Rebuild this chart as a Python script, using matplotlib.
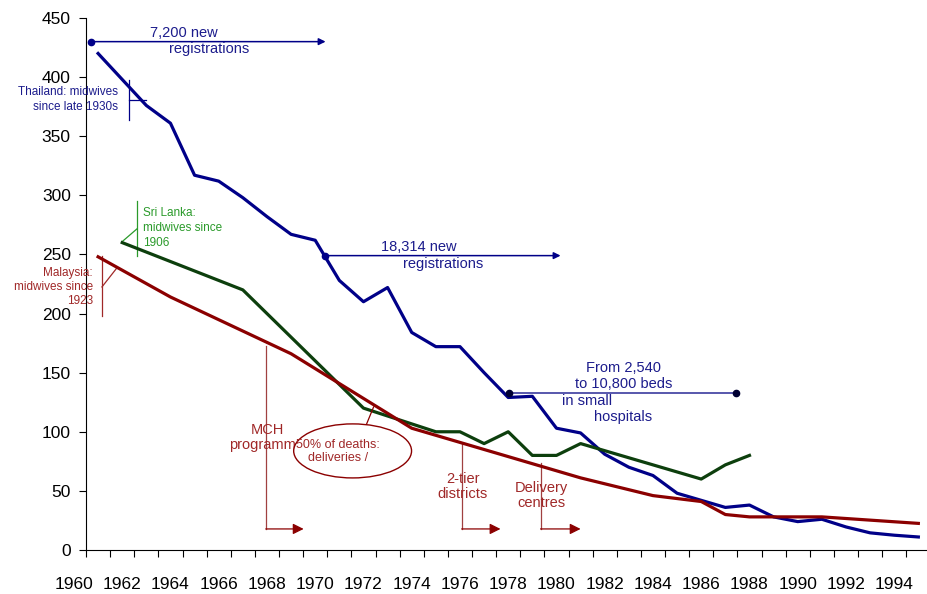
import matplotlib
matplotlib.use('Agg')
from matplotlib import pyplot as plt
from matplotlib.patches import Ellipse

plt.rcParams['font.family'] = ['Liberation Sans', 'DejaVu Sans']

# maternal mortality per 100,000 live births
thai_years = list(range(1961, 1996))
thai = [420, 398, 376, 361, 317, 312, 298, 282, 267, 262,
        228, 210, 222, 184, 172, 172, 150, 129, 130, 103,
        99, 81, 70, 63, 48, 42, 36, 38, 28, 24,
        26, 19.5, 14.5, 12.5, 11]
sri_years = [1962, 1967, 1972, 1975, 1976, 1977, 1978, 1979, 1980, 1981, 1986, 1987, 1988]
sri = [260, 220, 120, 100, 100, 90, 100, 80, 80, 90, 60, 72, 80]
mal_years = [1961, 1964, 1969, 1974, 1975, 1981, 1984, 1986, 1987, 1988, 1991, 1995]
mal = [248, 214, 166, 103, 97, 61, 46, 41, 30, 28, 28, 22.5]

year_labels = list(range(1960, 1996, 2))
y_ticks = list(range(0, 451, 50))

NAVY = '#000088'
GREEN = '#0d3f0d'
RED = '#8b0000'
T_NAVY = '#1c1c8c'
T_GREEN = '#2a9a2a'
T_RED = '#a02828'

fig = plt.figure(figsize=(9.28, 5.94), dpi=100)
ax = fig.add_axes([0.0927, 0.0741, 0.9073, 0.8956])

ax.plot(thai_years, thai, color=NAVY, lw=2.3, zorder=3)
ax.plot(sri_years, sri, color=GREEN, lw=2.3, zorder=3)
ax.plot(mal_years, mal, color=RED, lw=2.3, zorder=3)

ax.set_xlim(1960.54, 1995.4)
ax.set_ylim(0, 450)
ax.spines['top'].set_visible(False)
ax.spines['right'].set_visible(False)
ax.set_yticks(y_ticks)
ax.tick_params(axis='y', direction='out', length=5, pad=6, labelsize=12.5)
ax.set_xticks([y + 0.5 for y in range(1960, 1995)])
ax.set_xticklabels([])
ax.tick_params(axis='x', direction='out', length=5)
trans = ax.get_xaxis_transform()
for yr in year_labels:
    ax.text(yr, -0.065, str(yr), transform=trans, ha='center', va='center',
            fontsize=12.5, clip_on=False)

# registration arrows (Thailand)
def reg_arrow(x0, x1, y, color, end_dot=False, lw=1.1):
    if end_dot:
        ax.plot([x0, x1], [y, y], color=color, lw=lw, zorder=4)
        ax.plot([x0, x1], [y, y], 'o', color='#000033', ms=4.5, zorder=5)
    else:
        ax.plot([x0], [y], 'o', color=color, ms=4.5, zorder=5, clip_on=False)
        ax.annotate('', xy=(x1, y), xytext=(x0, y),
                    arrowprops=dict(arrowstyle='-|>', color=color, lw=lw,
                                    mutation_scale=10, shrinkA=0, shrinkB=0),
                    zorder=4)

reg_arrow(1960.70, 1970.43, 430, NAVY)
ax.text(1964.55, 437, '7,200 new', color=T_NAVY, fontsize=10.5, ha='center', va='center')
ax.text(1965.59, 424, 'registrations', color=T_NAVY, fontsize=10.5, ha='center', va='center')

reg_arrow(1970.39, 1980.17, 249, NAVY)
ax.text(1974.29, 256, '18,314 new', color=T_NAVY, fontsize=10.5, ha='center', va='center')
ax.text(1975.32, 242, 'registrations', color=T_NAVY, fontsize=10.5, ha='center', va='center')

reg_arrow(1978.05, 1987.45, 133, '#4a4aa6', end_dot=True, lw=1.3)
ax.text(1982.77, 154, 'From 2,540', color=T_NAVY, fontsize=10.5, ha='center', va='center')
ax.text(1982.80, 140.4, 'to 10,800 beds', color=T_NAVY, fontsize=10.5, ha='center', va='center')
ax.text(1981.28, 126, 'in small', color=T_NAVY, fontsize=10.5, ha='center', va='center')
ax.text(1982.77, 112.5, 'hospitals', color=T_NAVY, fontsize=10.5, ha='center', va='center')

# country labels with brackets
ax.text(1961.82, 381, 'Thailand: midwives\nsince late 1930s', color=T_NAVY, fontsize=8.5,
        ha='right', va='center', multialignment='right', linespacing=1.25)
ax.plot([1962.28, 1962.28], [397.6, 363.8], color=NAVY, lw=0.9)
ax.plot([1962.28, 1962.98], [380.7, 380.7], color=NAVY, lw=0.9)

ax.text(1962.86, 272.4, 'Sri Lanka:\nmidwives since\n1906', color=T_GREEN, fontsize=8.5,
        ha='left', va='center', linespacing=1.3)
ax.plot([1962.61, 1962.61], [295, 248.7], color=T_GREEN, lw=0.9)
ax.plot([1962.03, 1962.61], [261.4, 271.6], color=T_GREEN, lw=0.9)

ax.text(1960.79, 222.5, 'Malaysia:\nmidwives since\n1923', color=T_RED, fontsize=8.5,
        ha='right', va='center', multialignment='right', linespacing=1.25, clip_on=False)
ax.plot([1961.16, 1961.16], [248.7, 198], color=T_RED, lw=0.9)
ax.plot([1961.16, 1961.78], [222.5, 238.6], color=T_RED, lw=0.9)

# programme brackets (Malaysia)
def prog(x, ytop, xend, label, tx, ty):
    ax.plot([x, x], [ytop, 17.8], color='#a04040', lw=0.9, zorder=2)
    ax.annotate('', xy=(xend, 17.8), xytext=(x, 17.8),
                arrowprops=dict(arrowstyle='-|>', color=RED, lw=0.9,
                                mutation_scale=16, shrinkA=0, shrinkB=0))
    ax.text(tx, ty, label, color=T_RED, fontsize=10.5, ha='center', va='center',
            linespacing=1.1, zorder=2)

prog(1967.95, 172.6, 1969.52, 'MCH\nprogramme', 1968.0, 95)
prog(1976.07, 90.5, 1977.68, '2-tier\ndistricts', 1976.11, 53.7)
prog(1979.34, 73.6, 1981.0, 'Delivery\ncentres', 1979.38, 46.1)

ell = Ellipse((1971.55, 83.8), 4.886, 45.7, facecolor='white', edgecolor=RED,
              lw=1.0, zorder=4)
ax.add_patch(ell)
ax.plot([1972.13, 1972.42], [106.6, 121], color=RED, lw=0.9, zorder=4)
ax.text(1970.95, 83, '50% of deaths:\ndeliveries /', color=T_RED, fontsize=9,
        ha='center', va='center', zorder=5, linespacing=1.1)

fig.savefig('out.png', dpi=100)
